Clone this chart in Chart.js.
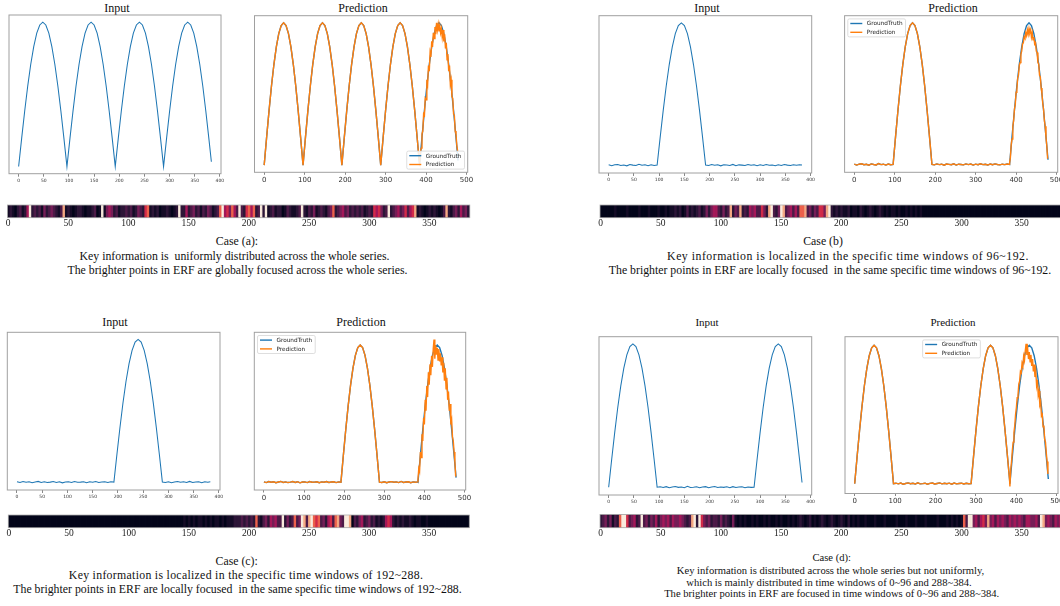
<!DOCTYPE html>
<html><head><meta charset="utf-8">
<script src="https://cdn.jsdelivr.net/npm/chart.js@4.4.1/dist/chart.umd.min.js"></script>
<style>
html,body{margin:0;padding:0;background:#fff;width:1060px;height:606px;overflow:hidden;position:relative}
canvas{position:absolute}
.t{position:absolute;white-space:pre;font-family:"Liberation Serif","Times New Roman",serif;color:#111;transform:translate(-50%,-50%);line-height:1}
</style></head><body>
<script>
// ---------------- DATA ----------------
const X_IN = [0,6,12,18,24,30,36,42,48,54,60,66,72,78,84,90,96,102,108,114,120,126,132,138,144,150,156,162,168,174,180,186,192,198,204,210,216,222,228,234,240,246,252,258,264,270,276,282,288,294,300,306,312,318,324,330,336,342,348,354,360,366,372,378,383];
const X_GT_TAIL = [384,390,396,402,408,414,420,426,432,438,444,450,456,462,468,474,479];
const X_PRED_TAIL = [384,386,388,390,392,394,396,398,400,402,404,406,408,410,412,414,416,418,420,422,424,426,428,430,432,434,436,438,440,442,444,446,448,450,452,454,456,458,460,462,464,466,468,470,472,474,476,478];

const IN_A = [0,.195,.383,.556,.707,.831,.924,.981,1,.981,.924,.831,.707,.556,.383,.195,0,
 .195,.383,.556,.707,.831,.924,.981,1,.981,.924,.831,.707,.556,.383,.195,0,
 .195,.383,.556,.707,.831,.924,.981,1,.981,.924,.831,.707,.556,.383,.195,0,
 .195,.383,.556,.707,.831,.924,.981,1,.981,.924,.831,.707,.556,.383,.195,.033];
const IN_B = [.003,-.004,.002,.005,-.002,.001,-.005,.004,.000,-.003,.006,-.001,.002,-.004,.003,-.002,.000,
 .195,.383,.556,.707,.831,.924,.981,1,.981,.924,.831,.707,.556,.383,.195,.000,
 -.003,.004,-.001,.002,-.005,.003,.001,-.002,.005,-.004,.002,.000,-.003,.004,-.001,.003,-.004,.002,-.002,.005,-.001,.001,-.004,.003,-.002,.004,.000,-.003,.002,-.001,.003,.001];
const IN_C = [.002,-.003,.004,-.001,.003,-.004,.001,.005,-.002,.002,-.003,.000,.004,-.002,.003,-.005,.001,.002,-.003,.004,-.001,.000,.003,-.004,.002,-.001,.004,-.002,.001,.003,-.003,.002,.000,
 .195,.383,.556,.707,.831,.924,.981,1,.981,.924,.831,.707,.556,.383,.195,.000,
 -.002,.003,-.004,.001,.004,-.001,.002,-.003,.005,-.002,.001,.003,-.004,.002,-.001,.002];
const IN_D = [0,.195,.383,.556,.707,.831,.924,.981,1,.981,.924,.831,.707,.556,.383,.195,0,
 .003,-.002,.004,-.004,.001,.005,-.001,.002,-.003,.006,-.002,.000,.003,-.004,.002,.004,-.003,.001,.005,-.002,.002,-.001,.003,-.004,.004,-.002,.001,.003,-.003,.002,-.001,.000,
 .195,.383,.556,.707,.831,.924,.981,1,.981,.924,.831,.707,.556,.383,.195,.033];

const GT_TAIL = [0,.195,.383,.556,.707,.831,.924,.981,1,.981,.924,.831,.707,.556,.383,.195,.033];

const PRED_TAIL_A = [.02,.09,.12,.22,.24,.36,.35,.47,.46,.60,.57,.70,.66,.79,.76,.87,.83,.93,.89,.97,.92,1.0,.95,.99,.94,.98,.93,.96,.90,.95,.87,.92,.82,.86,.74,.78,.66,.70,.57,.60,.48,.47,.36,.35,.24,.22,.14,.10];
const PRED_TAIL_B = [.01,.05,.14,.18,.27,.31,.39,.42,.51,.53,.61,.63,.70,.72,.78,.80,.85,.86,.90,.89,.93,.91,.95,.92,.96,.93,.95,.90,.93,.88,.90,.85,.86,.80,.79,.72,.71,.63,.62,.54,.50,.43,.39,.31,.27,.19,.13,.04];
const PRED_TAIL_C = [.02,.10,.08,.22,.18,.35,.30,.47,.42,.60,.52,.70,.62,.80,.71,.86,.78,.92,.84,.97,1.04,.90,1.00,.93,.98,.89,.97,.88,.94,.85,.91,.80,.87,.74,.83,.68,.76,.60,.66,.52,.57,.42,.45,.33,.30,.22,.15,.04];
const PRED_TAIL_D = [-.02,.10,.16,.24,.30,.37,.42,.50,.55,.62,.64,.72,.74,.81,.80,.87,.85,.92,.89,.96,1.01,.93,.97,.90,.95,.88,.93,.85,.90,.81,.86,.77,.81,.71,.75,.64,.67,.57,.59,.49,.50,.41,.42,.32,.30,.22,.16,.07];

const IN_TICKS = [0,50,100,150,200,250,300,350,400];
const PRED_TICKS = [0,100,200,300,400,500];
const ERF_TICKS = [0,50,100,150,200,250,300,350];
const SERIES_NAMES = ['GroundTruth','Prediction'];

// ERF intensities (0-9), each digit covers 2 time steps; each row covers 96 steps
const ERF_A = [
 "121023125923231423432138121012210112301914542312",
 "232312432671212011210129225234231324312379564753",
 "932675723929123122013211239213241232134723453423",
 "232312326564239234534635681210121210138213425342"];
const ERF_B = [
 "000000100001000010001000100101121201312123124245",
 "532423824382325453364289324983453537783424366489",
 "212121120110210121012101011010010101010000000000",
 "000000000000000000000000000000000000000000000000"];
const ERF_C = [
 "000000000000000000000000000000000000000000000000",
 "000000000000000000000000010101011010101101011122",
 "232323272134254533924237349838976734256378439980",
 "324523423121256521212112101100100000000000000000"];
const ERF_D = [
 "234241327996345239342435245453544543238929643423",
 "324232141010100101001010010100101012101201012101",
 "210121020101001000100010000100010001000100001000",
 "101010173994535648453545435454543554453984543545"];

// ---------------- LAYOUT / STYLE ----------------
const BLUE = '#1f77b4', ORANGE = '#ff7f0e';
const ROCKET = [[3,5,26],[53,25,62],[112,31,87],[173,23,89],[225,51,66],[243,118,81],[246,180,143],[250,235,221]];
const LEVEL_T = [0, .05, .12, .2, .3, .41, .53, .67, .83, 1];
function rocket(t){
  const p = Math.max(0, Math.min(1, t)) * 7;
  const i = Math.min(6, Math.floor(p)), f = p - i;
  const a = ROCKET[i], b = ROCKET[i+1];
  return 'rgb(' + a.map((v,k)=>Math.round(v + (b[k]-v)*f)).join(',') + ')';
}

const framePlugin = {
  id: 'frame',
  afterDraw(chart, args, o){
    if (!o || !o.on) return;
    const {ctx, chartArea:a} = chart;
    ctx.save(); ctx.strokeStyle = o.color; ctx.lineWidth = o.width;
    ctx.strokeRect(a.left, a.top, a.right-a.left, a.bottom-a.top);
    ctx.restore();
  }
};
const bgPlugin = {
  id: 'areaBg',
  beforeDatasetsDraw(chart, args, o){
    if (!o || !o.color) return;
    const {ctx, chartArea:a} = chart;
    ctx.save(); ctx.fillStyle = o.color; ctx.fillRect(a.left, a.top, a.right-a.left, a.bottom-a.top); ctx.restore();
  }
};
const legendPlugin = {
  id: 'mplLegend',
  afterDatasetsDraw(chart, args, o){
    if (!o || !o.loc) return;
    const {ctx, chartArea:a} = chart;
    const fs = 5.75;
    ctx.save();
    ctx.font = fs + 'px "DejaVu Sans"';
    const items = chart.data.datasets.map(d => ({label:d.label, color:d.borderColor}));
    const tw = Math.max(...items.map(i => ctx.measureText(i.label).width));
    const padL = 2.5, handle = 12, gap = 4.5, padR = 3, rowH = 8.8, padV = 4.6;
    const w = padL + handle + gap + tw + padR;
    const h = padV*2 + rowH*(items.length-1);
    const off = 3.2;
    let x, y;
    if (o.loc === 'lr'){ x = a.right - off - w; y = a.bottom - off - h; }
    else if (o.loc === 'ul'){ x = a.left + off; y = a.top + off; }
    else { x = (a.left + a.right)/2 - w/2; y = a.top + off; }
    ctx.fillStyle = 'rgba(255,255,255,0.85)';
    ctx.strokeStyle = '#d0d0d0'; ctx.lineWidth = 0.7;
    ctx.beginPath();
    if (ctx.roundRect) ctx.roundRect(x, y, w, h, 1.5); else ctx.rect(x, y, w, h);
    ctx.fill(); ctx.stroke();
    items.forEach((it, i) => {
      const cy = y + padV + i*rowH;
      ctx.strokeStyle = it.color; ctx.lineWidth = 1.4;
      ctx.beginPath(); ctx.moveTo(x+padL, cy); ctx.lineTo(x+padL+handle, cy); ctx.stroke();
      ctx.fillStyle = '#222'; ctx.textBaseline = 'middle'; ctx.textAlign = 'left';
      ctx.fillText(it.label, x+padL+handle+gap, cy+0.3);
    });
    ctx.restore();
  }
};
Chart.register(framePlugin, bgPlugin, legendPlugin);

function placeCanvas(box, ext){
  const cl = Math.floor(box.l - ext.l), ct = Math.floor(box.t - ext.t);
  const cr = Math.ceil(box.r + ext.r), cb = Math.ceil(box.b + ext.b + ext.axis);
  const cv = document.createElement('canvas');
  cv.width = cr - cl; cv.height = cb - ct;
  cv.style.left = cl + 'px'; cv.style.top = ct + 'px';
  cv.style.width = (cr-cl) + 'px'; cv.style.height = (cb-ct) + 'px';
  document.body.appendChild(cv);
  return {cv, pad:{left: box.l - cl, right: cr - box.r, top: box.t - ct, bottom: cb - box.b - ext.axis}};
}

function toXY(xs, ys){ return xs.map((x,i)=>({x, y: ys[i]})); }

function lineChart(box, xMin, xMax, datasets, ticks, tickFont, tickLen, legendLoc){
  const axisH = 14;
  const {cv, pad} = placeCanvas(box, {l:10, r:10, t:2, b:0, axis:axisH});
  let ys = [];
  datasets.forEach(d => d.data.forEach(p => ys.push(p.y)));
  const lo = Math.min(...ys), hi = Math.max(...ys), m = (hi-lo)*0.05;
  new Chart(cv, {
    type: 'line',
    data: {datasets},
    options: {
      responsive:false, animation:false, events:[],
      layout:{padding:pad},
      plugins:{legend:{display:false}, tooltip:{enabled:false},
        frame:{on:true, color:'#a0a0a0', width:1}, mplLegend:{loc:legendLoc}},
      elements:{point:{radius:0}, line:{tension:0}},
      scales:{
        x:{type:'linear', min:xMin, max:xMax,
          afterBuildTicks: s => { s.ticks = ticks.map(v => ({value:v})); },
          afterFit: s => { s.height = axisH; },
          grid:{drawOnChartArea:false, drawTicks:true, tickLength:tickLen, color:'#555', lineWidth:0.7},
          border:{display:false},
          ticks:{font:{family:'DejaVu Sans', size:tickFont}, color:'#333', padding:1, maxRotation:0, autoSkip:false}},
        y:{display:false, min:lo-m, max:hi+m}
      }
    }
  });
}

function inputChart(box, ys){
  lineChart(box, -19.15, 402.15,
    [{data: toXY(X_IN, ys), borderColor: BLUE, borderWidth: 1.05}],
    IN_TICKS, 4.5, 3, null);
}
function predChart(box, ys, tail, loc){
  lineChart(box, -23.95, 502.95, [
    {label: SERIES_NAMES[0], data: toXY(X_IN.concat(X_GT_TAIL), ys.concat(GT_TAIL)), borderColor: BLUE, borderWidth: 1.4, order: 1},
    {label: SERIES_NAMES[1], data: toXY(X_IN.concat(X_PRED_TAIL), ys.concat(tail)), borderColor: ORANGE, borderWidth: 1.4, order: 0}
  ], PRED_TICKS, 7, 2.5, loc);
}

function erfStrip(box, rows){
  const axisH = 13;
  const {cv, pad} = placeCanvas(box, {l:12, r:12, t:2, b:0, axis:axisH});
  const vals = rows.join('').split('').map(Number);
  const cells = [];
  vals.forEach(v => { cells.push(v, v); });
  const labels = cells.map((_, i) => String(i));
  new Chart(cv, {
    type: 'bar',
    data: {labels, datasets:[{data: cells.map(()=>1), backgroundColor: cells.map(v => rocket(LEVEL_T[v])),
      borderWidth:0, barPercentage:1, categoryPercentage:1, inflateAmount:0.35}]},
    options: {
      responsive:false, animation:false, events:[],
      layout:{padding:pad},
      plugins:{legend:{display:false}, tooltip:{enabled:false},
        areaBg:{color:'rgb(3,5,26)'}, frame:{on:true, color:'#b0b0b0', width:0.8}},
      scales:{
        x:{type:'category', offset:true,
          afterBuildTicks: s => { s.ticks = ERF_TICKS.map(v => ({value:v})); },
          afterFit: s => { s.height = axisH; },
          grid:{display:false, drawTicks:false}, border:{display:false},
          ticks:{font:{family:'Liberation Serif', size:9.5}, color:'#222', padding:0, maxRotation:0, autoSkip:false}},
        y:{display:false, min:0, max:1}
      }
    }
  });
}

function text(str, cx, cy, size, ls){
  const d = document.createElement('div');
  d.className = 't'; d.textContent = str;
  d.style.left = cx + 'px'; d.style.top = cy + 'px'; d.style.fontSize = size + 'px';
  if (ls) d.style.letterSpacing = ls + 'px';
  document.body.appendChild(d);
}

// ---- case (a)
text('Input', 117, 7.5, 12); text('Prediction', 363, 7.5, 12);
inputChart({l:9, t:15, r:221, b:173.7}, IN_A);
predChart({l:254.5, t:15.7, r:467.7, b:172.3}, IN_A, PRED_TAIL_A, 'lr');
erfStrip({l:7.5, t:205, r:469.8, b:217.7}, ERF_A);
text('Case (a):', 237, 241.5, 11.8);
text('Key information is  uniformly distributed across the whole series.', 234.5, 256.5, 11.8);
text('The brighter points in ERF are globally focused across the whole series.', 237.5, 271, 11.8);

// ---- case (b)
text('Input', 707, 7.5, 12); text('Prediction', 953, 7.5, 12);
inputChart({l:599, t:15.7, r:811.7, b:173}, IN_B);
predChart({l:844.6, t:15.7, r:1057.7, b:172.3}, IN_B, PRED_TAIL_B, 'ul');
erfStrip({l:600, t:205, r:1062, b:217.7}, ERF_B);
text('Case (b)', 823, 241.5, 11.8);
text('Key information is localized in the specific time windows of 96~192.', 848, 256.5, 11.8, 0.5);
text('The brighter points in ERF are locally focused  in the same specific time windows of 96~192.', 830, 271, 11.8);

// ---- case (c)
text('Input', 115, 322, 12); text('Prediction', 361, 322, 12);
inputChart({l:7.3, t:332.3, r:220, b:490}, IN_C);
predChart({l:254.3, t:332.3, r:465.7, b:490}, IN_C, PRED_TAIL_C, 'ul');
erfStrip({l:8.3, t:515, r:469.3, b:527.7}, ERF_C);
text('Case (c):', 236.7, 561.5, 11.8);
text('Key information is localized in the specific time windows of 192~288.', 246, 576, 11.8, 0.3);
text('The brighter points in ERF are locally focused  in the same specific time windows of 192~288.', 237.5, 590, 11.8);

// ---- case (d)
text('Input', 707, 322, 11); text('Prediction', 953, 322, 11);
inputChart({l:599, t:336.7, r:811.7, b:495}, IN_D);
predChart({l:845, t:336.7, r:1058, b:493.5}, IN_D, PRED_TAIL_D, 'uc');
erfStrip({l:600, t:514.5, r:1062, b:527.7}, ERF_D);
text('Case (d):', 831.7, 557.5, 10.6);
text('Key information is distributed across the whole series but not uniformly,', 830.5, 571, 10.6);
text('which is mainly distributed in time windows of 0~96 and 288~384.', 829, 582.5, 10.6);
text('The brighter points in ERF are focused in time windows of 0~96 and 288~384.', 831.7, 594, 10.6);
</script></body></html>
